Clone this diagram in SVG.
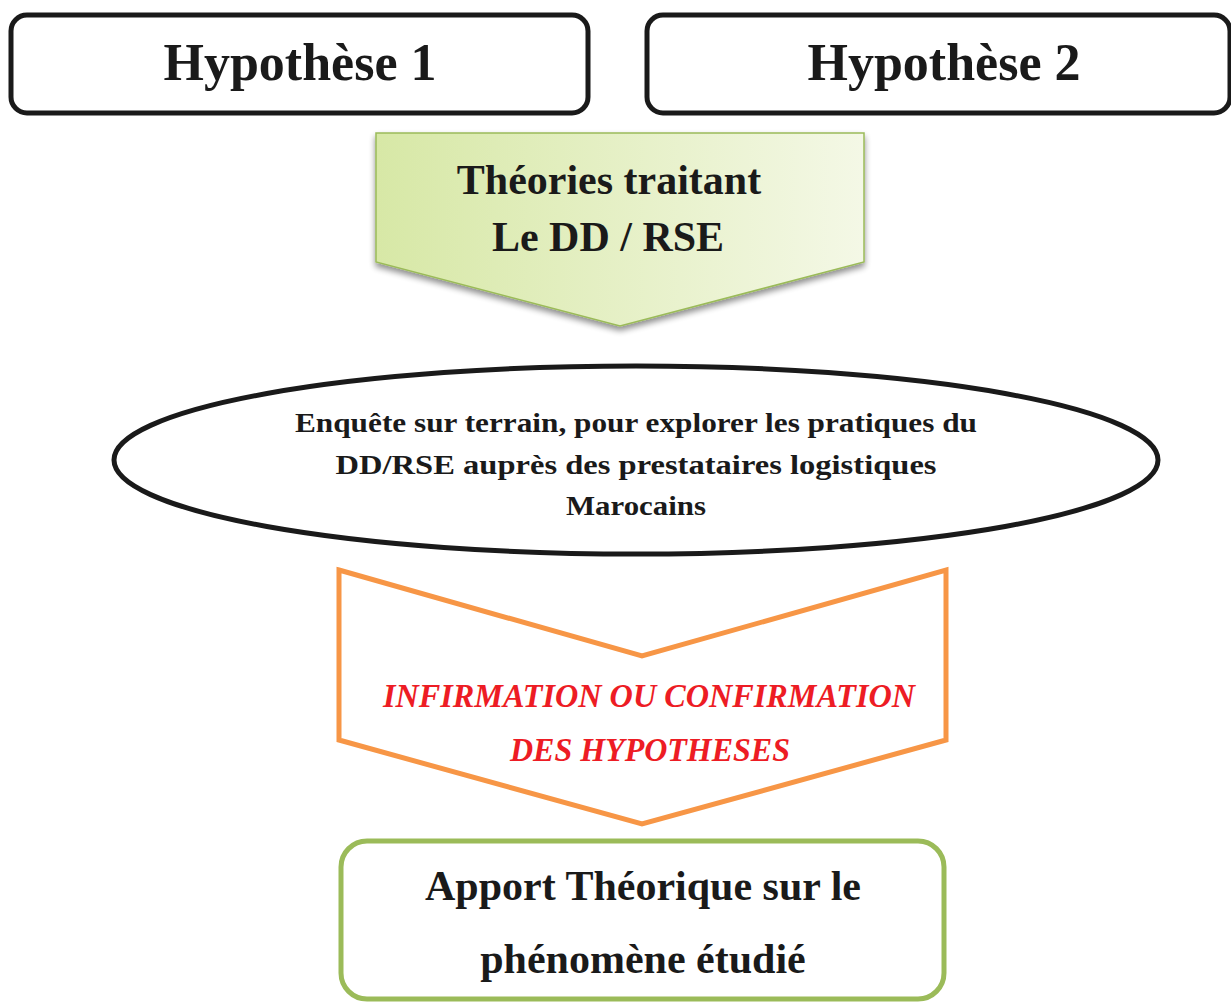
<svg xmlns="http://www.w3.org/2000/svg" width="1231" height="1003" viewBox="0 0 1231 1003">
<style>
.hyp{fill:#fff;stroke:#1a1a1a;stroke-width:5}
.serif{font-family:"Liberation Serif","Times New Roman",serif;font-weight:bold;fill:#1a1a1a;text-anchor:middle}
.red{font-family:"Liberation Serif","Times New Roman",serif;font-weight:bold;font-style:italic;fill:#ed1c24;text-anchor:middle}
</style>
<defs>
<linearGradient id="gr" x1="0" y1="0" x2="1" y2="0">
<stop offset="0" stop-color="#d7e8a6"/>
<stop offset="1" stop-color="#f4f8e6"/>
</linearGradient>
<filter id="sh" x="-10%" y="-10%" width="120%" height="130%">
<feGaussianBlur in="SourceAlpha" stdDeviation="3"/>
<feOffset dx="0" dy="4" result="b"/>
<feComponentTransfer><feFuncA type="linear" slope="0.45"/></feComponentTransfer>
<feMerge><feMergeNode/><feMergeNode in="SourceGraphic"/></feMerge>
</filter>
</defs>
<rect width="1231" height="1003" fill="#fff"/>
<g id="hypothese1">
<rect class="hyp" x="11" y="15" width="577" height="98" rx="16"/>
<text class="serif" x="300" y="80" font-size="52" font-weight="normal" style="font-weight:bold">Hypothèse 1</text>
</g>
<g id="hypothese2">
<rect class="hyp" x="647" y="15" width="583" height="98" rx="16"/>
<text class="serif" x="944" y="80" font-size="52">Hypothèse 2</text>
</g>
<g id="theories">
<polygon points="376,133 864,133 864,262 620,326 376,262" fill="url(#gr)" stroke="#9bbb59" stroke-width="1.5" filter="url(#sh)"/>
<text class="serif" x="609" y="194" font-size="42">Théories traitant</text>
<text class="serif" x="608" y="251" font-size="42">Le DD / RSE</text>
</g>
<g id="enquete">
<ellipse cx="636" cy="460" rx="522" ry="94" fill="#fff" stroke="#1a1a1a" stroke-width="5"/>
<text class="serif" x="636" y="432" font-size="27" textLength="682" lengthAdjust="spacingAndGlyphs">Enquête sur terrain, pour explorer les pratiques du</text>
<text class="serif" x="636" y="474" font-size="27" textLength="601" lengthAdjust="spacingAndGlyphs">DD/RSE auprès des prestataires logistiques</text>
<text class="serif" x="636" y="515" font-size="27" textLength="140" lengthAdjust="spacingAndGlyphs">Marocains</text>
</g>
<g id="infirmation">
<polygon points="339,570 642,656 946,570 946,740 642,824 339,740" fill="#fff" stroke="#f79646" stroke-width="5" stroke-linejoin="miter"/>
<text class="red" x="649" y="707" font-size="34" textLength="532" lengthAdjust="spacingAndGlyphs">INFIRMATION OU CONFIRMATION</text>
<text class="red" x="650" y="761" font-size="34" textLength="280" lengthAdjust="spacingAndGlyphs">DES HYPOTHESES</text>
</g>
<g id="apport">
<rect x="341" y="841" width="603" height="158" rx="26" fill="#fff" stroke="#9bbb59" stroke-width="5"/>
<text class="serif" x="643" y="900" font-size="42">Apport Théorique sur le</text>
<text class="serif" x="643" y="973" font-size="42">phénomène étudié</text>
</g>
<g id="connectors"/>
</svg>
